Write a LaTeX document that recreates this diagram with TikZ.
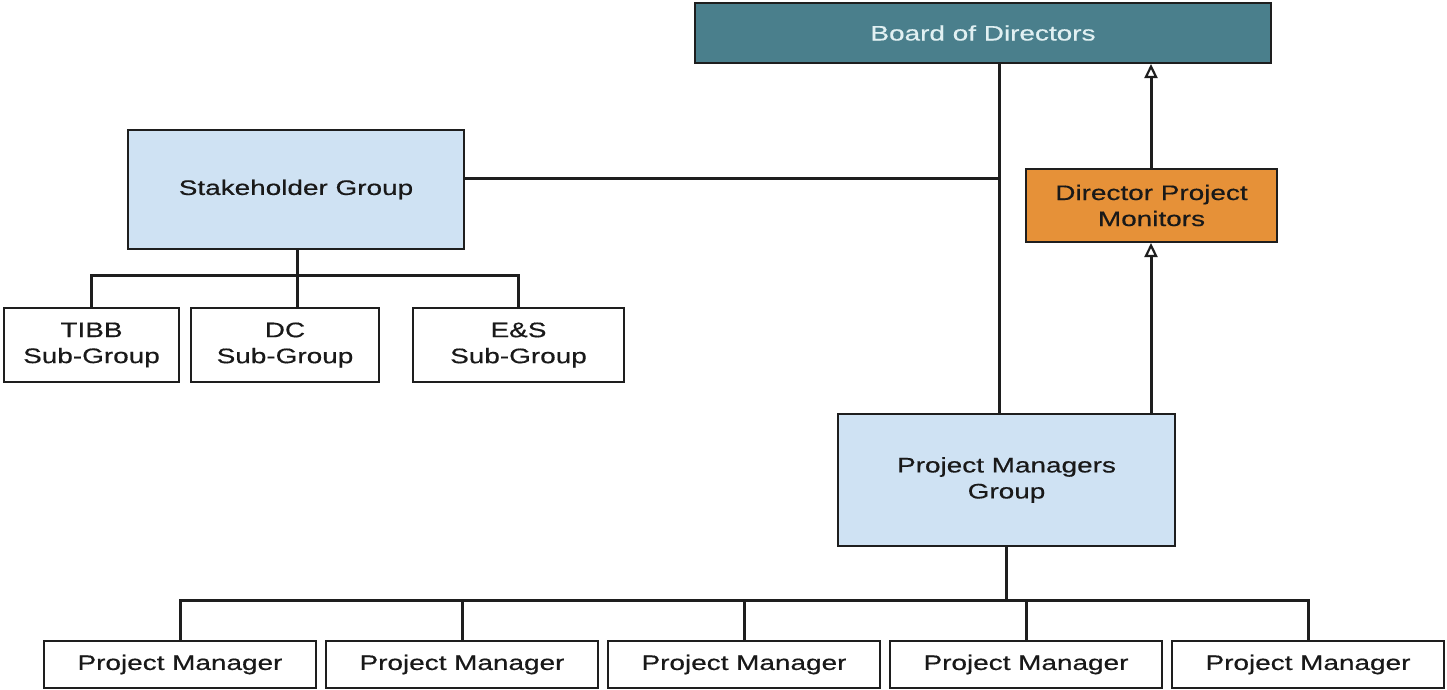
\documentclass[tikz,border=0pt]{standalone}
\usepackage{fontspec}
\setmainfont{Liberation Sans}[FakeStretch=1.33,FakeBold=0.5]
\usetikzlibrary{arrows.meta}
\definecolor{teal}{RGB}{74,127,140}
\definecolor{lblue}{RGB}{207,226,243}
\definecolor{orng}{RGB}{230,145,56}
\definecolor{edge}{RGB}{30,30,30}
\definecolor{txt}{RGB}{25,25,25}
\definecolor{ltxt}{RGB}{225,240,242}
\begin{document}
\begin{tikzpicture}[x=1pt,y=-1pt,
  box/.style={draw=edge,line width=2pt,inner sep=0pt,align=center,text=txt,
    font=\fontsize{21}{26}\selectfont},
  conn/.style={draw=edge,line width=3pt},
  arr/.style={conn,-{Triangle[open,length=14pt,width=13pt,line width=2.2pt]}}]
\useasboundingbox (0,0) rectangle (1447,689);
\node[box,fill=teal,text=ltxt,minimum width=576pt,minimum height=60pt] (bod) at (983,33) {Board of Directors};
\node[box,fill=lblue,minimum width=336pt,minimum height=119pt] (sg) at (296,189.5) {Stakeholder Group};
\node[box,minimum width=175pt,minimum height=74pt] (tibb) at (91.5,345) {TIBB\\Sub-Group};
\node[box,minimum width=188pt,minimum height=74pt] (dc) at (285,345) {DC\\Sub-Group};
\node[box,minimum width=211pt,minimum height=74pt] (es) at (518.5,345) {E\&S\\Sub-Group};
\node[box,fill=orng,minimum width=251pt,minimum height=73pt] (dpm) at (1151.5,205.5) {Director Project\\Monitors};
\node[box,fill=lblue,minimum width=337pt,minimum height=132pt] (pmg) at (1006.5,480) {Project Managers\\Group};
\foreach \i in {1,...,5}{
  \node[box,minimum width=272pt,minimum height=47pt] (pm\i) at ({180+282*(\i-1)},664.5) {Project Manager};
}
% stakeholder sub-groups
\coordinate (sb) at (297,275);
\draw[conn] (sg.south -| sb) -- (sb);
\draw[conn] (tibb.north) |- (sb) -| (es.north);
\draw[conn] (sb) -- (dc.north -| sb);
% board to project managers group
\coordinate (jx) at (999,178);
\draw[conn] (bod.south -| jx) -- (pmg.north -| jx);
\draw[conn] (sg.east |- jx) -- (jx);
% arrows
\coordinate (ax) at (1151,0);
\draw[arr] (pmg.north -| ax) -- (dpm.south -| ax);
\draw[arr] (dpm.north -| ax) -- (bod.south -| ax);
% project managers
\coordinate (pb) at (1006,600);
\draw[conn] (pmg.south -| pb) -- (pb);
\draw[conn] (pm1.north) |- (pb) -| (pm5.north);
\foreach \i in {2,3,4}{\draw[conn] (pm\i.north) -- (pm\i.north |- pb);}
\end{tikzpicture}
\end{document}
